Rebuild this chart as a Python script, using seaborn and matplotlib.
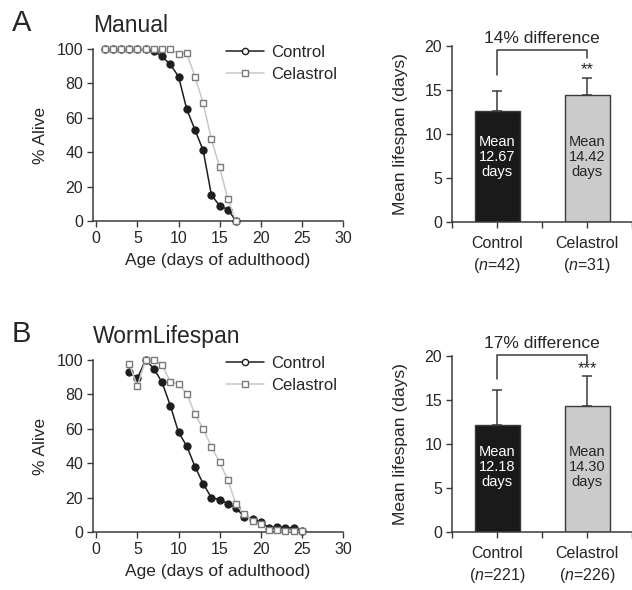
import numpy as np
import pandas as pd
import matplotlib
matplotlib.use("Agg")
import matplotlib.pyplot as plt
from matplotlib.lines import Line2D
import seaborn as sns

sns.set_theme(style="ticks")
plt.rcParams['font.family'] = ['Liberation Sans', 'DejaVu Sans']
plt.rcParams['mathtext.fontset'] = 'custom'
plt.rcParams['mathtext.rm'] = 'Liberation Sans'
plt.rcParams['mathtext.it'] = 'Liberation Sans:italic'

# ---------------- data ----------------
days_A = list(range(1, 18))
ctrl_A = [100, 100, 100, 100, 100, 100, 99, 95.7, 91, 84, 65, 53, 41, 15, 9, 6.6, 0]
cel_A = [100, 100, 100, 100, 100, 100, 100, 100, 100, 97.3, 97.5, 84, 68.5, 47.5, 31.3, 12.6, 0]

days_B = list(range(4, 26))
ctrl_B = [93, 89.5, 100, 95, 87, 73.5, 58, 50, 38, 28, 20, 18.8, 16.5, 14, 8.7, 7.6,
          5.8, 2.5, 2.8, 2.5, 2.5, 0.6]
cel_B = [97.5, 85, 100, 100, 97, 87.5, 86, 80.5, 68.5, 60, 49.5, 40.5, 30.3, 16, 10.3,
         6.4, 4.4, 1.2, 1.0, 0.6, 0.4, 0.4]

groups = ["Control", "Celastrol"]
mean_A = [12.67, 14.42]
err_A = [2.18, 1.98]
n_A = [42, 31]
mean_B = [12.18, 14.30]
err_B = [3.92, 3.40]
n_B = [221, 226]
diff_A = "14% difference"
diff_B = "17% difference"
stars_A = "**"
stars_B = "***"

# ---------------- style ----------------
TXT = "#262626"
SP = "#3a3a3a"
CTRL_C = "#1e1e1e"
CEL_LINE = "#c8c8c8"
CEL_EDGE = "#7a7a7a"
BAR_C = ["#1a1a1a", "#cbcbcb"]

W, H = 632, 590
fig = plt.figure(figsize=(W / 100, H / 100), dpi=100)


def rect(l, t, r, b):
    return [l / W, 1 - b / H, (r - l) / W, (b - t) / H]


def style_axes(ax):
    sns.despine(ax=ax)
    for s in ("left", "bottom"):
        ax.spines[s].set_color(SP)
        ax.spines[s].set_linewidth(1.1)
    ax.tick_params(axis="both", colors=SP, labelcolor=TXT, labelsize=11.5,
                   direction="out", length=4, width=1.0, pad=3)


def survival(ax, days, ctrl, cel, title, letter):
    sns.lineplot(x=days, y=ctrl, ax=ax, color=CTRL_C, lw=1.1, marker="o",
                 markersize=5.2, markerfacecolor=CTRL_C, markeredgecolor=CTRL_C,
                 zorder=3, clip_on=False)
    sns.lineplot(x=days, y=cel, ax=ax, color=CEL_LINE, lw=1.1, marker="s",
                 markersize=4.3, markerfacecolor="white", markeredgecolor=CEL_EDGE,
                 markeredgewidth=1.0, zorder=4, clip_on=False)
    ax.set_xlim(-0.4, 30)
    ax.set_ylim(0, 100)
    ax.set_xticks(range(0, 31, 5))
    ax.set_yticks(range(0, 101, 20))
    ax.set_xlabel("Age (days of adulthood)", fontsize=12.5, color=TXT, labelpad=5)
    ax.set_ylabel("% Alive", fontsize=12.5, color=TXT, labelpad=6)
    style_axes(ax)
    handles = [
        Line2D([], [], color=CTRL_C, lw=1.1, marker="o", markersize=4.5,
               markerfacecolor="white", markeredgecolor=CTRL_C),
        Line2D([], [], color=CEL_LINE, lw=1.1, marker="s", markersize=4.3,
               markerfacecolor="white", markeredgecolor=CEL_EDGE),
    ]
    ax.legend(handles, ["Control", "Celastrol"], loc="upper left",
              bbox_to_anchor=(0.47, 1.11), frameon=False, fontsize=12,
              handlelength=2.3, handletextpad=0.45, labelspacing=0.4,
              labelcolor=TXT)
    ax.text(0.0, 1.07, title, transform=ax.transAxes, fontsize=16.5,
            color=TXT, ha="left", va="bottom")
    ax.text(-0.285, 1.07, letter, transform=ax.transAxes, fontsize=21,
            color=TXT, ha="center", va="bottom")


def bars(ax, means, errs, ns, diff, stars, br):
    df = pd.DataFrame({"group": groups, "mean": means})
    sns.barplot(data=df, x="group", y="mean", hue="group", palette=BAR_C,
                ax=ax, width=0.5, edgecolor=SP, linewidth=1.0, legend=False)
    ax.errorbar([0, 1], means, yerr=[[0, 0], errs], fmt="none", ecolor=SP,
                elinewidth=1.1, capsize=3.5, capthick=1.1, zorder=1)
    ax.set_xlim(-0.5, 1.443)
    ax.set_ylim(0, 20)
    ax.set_yticks(range(0, 21, 5))
    ax.set_xticks([-0.5, 0, 0.5, 1, 1.5])
    ax.set_xticklabels(["", f"Control\n($\\it{{n}}$={ns[0]})", "",
                        f"Celastrol\n($\\it{{n}}$={ns[1]})", ""],
                       linespacing=1.35)
    ax.set_xlabel("")
    ax.set_ylabel("Mean lifespan (days)", fontsize=12.5, color=TXT, labelpad=12)
    style_axes(ax)
    ax.tick_params(axis="x", pad=6)
    txt_col = ["white", TXT]
    for i, m in enumerate(means):
        ax.text(i, 7.4, f"Mean\n{m:.2f}\ndays", ha="center", va="center",
                fontsize=10.5, color=txt_col[i], linespacing=1.1)
    ax.plot([0, 0, 1, 1], br, color=SP, lw=1.1, clip_on=False)
    ax.text(0.5, br[1] + 0.45, diff, ha="center", va="bottom", fontsize=12.5,
            color=TXT, clip_on=False)
    ax.text(1, means[1] + errs[1] + 0.05, stars, ha="center", va="bottom",
            fontsize=12, color=TXT)


axA = fig.add_axes(rect(93, 49, 343, 221))
survival(axA, days_A, ctrl_A, cel_A, "Manual", "A")
axB = fig.add_axes(rect(93, 360, 343, 532))
survival(axB, days_B, ctrl_B, cel_B, "WormLifespan", "B")

axC = fig.add_axes(rect(452, 46, 632, 222))
bars(axC, mean_A, err_A, n_A, diff_A, stars_A, [16.7, 19.6, 19.6, 18.6])
axD = fig.add_axes(rect(452, 356, 632, 532))
bars(axD, mean_B, err_B, n_B, diff_B, stars_B, [17.4, 20.1, 20.1, 19.2])

fig.savefig("out.png", dpi=100)
